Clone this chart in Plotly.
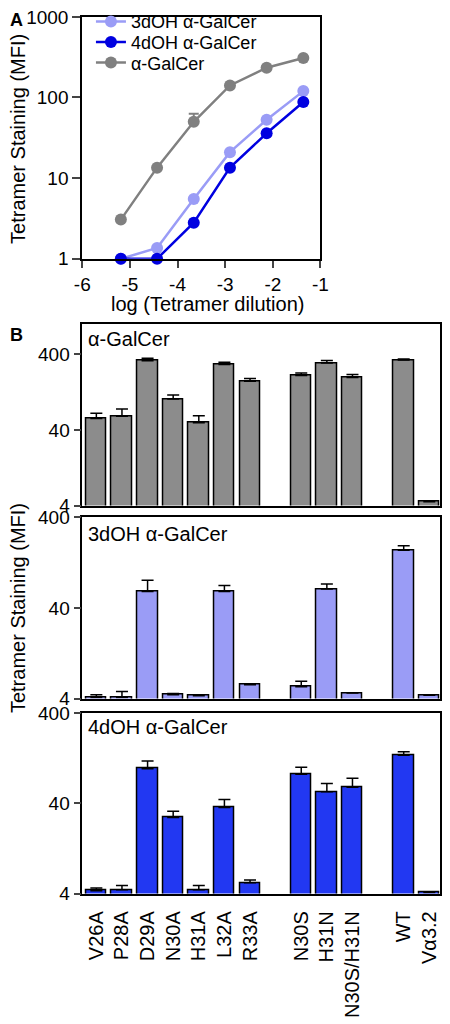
import math
import plotly.graph_objects as go

# ---------------- Panel A data ----------------
log_dilution = [-5.19, -4.43, -3.66, -2.90, -2.13, -1.36]
mfi_3doh = [1.0, 1.36, 5.5, 21, 53, 120]
mfi_4doh = [1.0, 1.0, 2.8, 13.5, 36, 88]
mfi_agal = [3.06, 13.5, 50, 141, 234, 309]
err_agal = [0, 0, 13, 0, 0, 0]
a_yticks = [1, 10, 100, 1000]
a_xticks = [-6, -5, -4, -3, -2, -1]

# ---------------- Panel B data ----------------
group_alanine = ["V26A", "P28A", "D29A", "N30A", "H31A", "L32A", "R33A"]
group_mouse = ["N30S", "H31N", "N30S/H31N"]
group_ctrl = ["WT", "Vα3.2"]

bar_agal = [57, 61, 331, 103, 50, 294, 177, 211, 308, 199, 337, 4.5]
bar_agal_err = [10, 15, 27, 13, 12, 21, 16, 16, 26, 19, 11, 0.15]
bar_3doh = [4.1, 4.1, 61, 4.4, 4.3, 61, 5.7, 5.4, 65, 4.6, 173, 4.35]
bar_3doh_err = [0.3, 0.7, 20, 0.15, 0.12, 10, 0.05, 0.8, 8.6, 0.05, 21, 0.05]
bar_4doh = [4.3, 4.4, 97, 27.9, 4.4, 36.1, 5.25, 84, 53.8, 60.4, 137, 4.1]
bar_4doh_err = [0.3, 0.5, 21, 4.8, 0.5, 8.2, 0.4, 17, 12.6, 15.5, 13, 0.05]
b_yticks = [4, 40, 400]

C_LIGHT = "#9a9cf6"
C_DARK = "#0000e0"
C_GRAY = "#808080"
C_BAR_GRAY = "#8c8c8c"
C_BAR_DARK = "#2238f2"
FONT = "Liberation Sans, Arial, Helvetica, sans-serif"

W, H = 450, 1024


def px_x(v):
    return v / W


def px_y(v):
    return 1 - v / H


# category positions: groups separated by one empty slot
categories = []
positions = []
pos = 0
for grp in (group_alanine, group_mouse, group_ctrl):
    for c in grp:
        categories.append(c)
        positions.append(pos)
        pos += 1
    pos += 1

fig = go.Figure()

# Panel A lines, each in its own legend row
legend_rows = [("legend", 12), ("legend2", 33), ("legend3", 54)]
for (name, ys, col, err), (lg, _) in zip((
    ("3dOH α-GalCer", mfi_3doh, C_LIGHT, None),
    ("4dOH α-GalCer", mfi_4doh, C_DARK, None),
    ("α-GalCer", mfi_agal, C_GRAY, err_agal),
), legend_rows):
    fig.add_trace(go.Scatter(
        x=log_dilution, y=ys, name=name, mode="lines+markers",
        line=dict(color=col, width=2.5),
        marker=dict(color=col, size=12),
        error_y=(dict(type="data", array=err, symmetric=False,
                      arrayminus=[0] * len(err), color=col, thickness=2, width=5)
                 if err else None),
        cliponaxis=False, legend=lg,
        xaxis="x", yaxis="y",
    ))

# Panel B bars
for i, (vals, errs, col) in enumerate((
    (bar_agal, bar_agal_err, C_BAR_GRAY),
    (bar_3doh, bar_3doh_err, C_LIGHT),
    (bar_4doh, bar_4doh_err, C_BAR_DARK),
)):
    n = i + 2
    fig.add_trace(go.Bar(
        x=positions, y=vals, width=0.8,
        marker=dict(color=col, line=dict(color="black", width=1.5)),
        error_y=dict(type="data", array=errs, symmetric=False,
                     arrayminus=[0] * len(errs), color="black",
                     thickness=1.5, width=6),
        showlegend=False,
        xaxis=f"x{n}", yaxis=f"y{n}",
    ))

tickfont = dict(family=FONT, size=19, color="black")

layout = dict(
    width=W, height=H,
    margin=dict(l=0, r=0, t=0, b=0),
    paper_bgcolor="white", plot_bgcolor="white",
    font=dict(family=FONT, color="black"),
    bargap=0,
    xaxis=dict(domain=[px_x(77), px_x(324)], anchor="y", range=[-6, -1],
               tickvals=a_xticks, ticktext=[str(v) for v in a_xticks],
               ticks="outside", ticklen=7,
               tickwidth=2, showline=True, linewidth=2, linecolor="black",
               mirror=True, showgrid=False, zeroline=False, tickfont=tickfont),
    yaxis=dict(domain=[px_y(254), px_y(7)], anchor="x", type="log",
               range=[0, 3], tickvals=a_yticks,
               ticktext=[str(v) for v in a_yticks], ticks="outside",
               ticklen=8, tickwidth=2, showline=True, linewidth=2,
               linecolor="black", mirror=True, showgrid=False,
               zeroline=False, tickfont=tickfont),
)
for lg, yc in legend_rows:
    layout[lg] = dict(x=px_x(86), y=px_y(yc), xanchor="left", yanchor="middle",
                      font=dict(family=FONT, size=18, color="black"),
                      bgcolor="rgba(0,0,0,0)", itemwidth=30)

b_domains = [(321, 506, 1000), (518, 703, 400), (718, 902, 400)]
for i, (top, bot, ymax) in enumerate(b_domains):
    n = i + 2
    layout[f"xaxis{n}"] = dict(
        domain=[px_x(77), px_x(448)], anchor=f"y{n}", range=[-0.55, 13.42],
        tickvals=positions, ticktext=categories,
        showticklabels=(n == 4), tickangle=-90, ticks="",
        ticklabelstandoff=8,
        showline=True, linewidth=1.5, linecolor="black", mirror=True,
        showgrid=False, zeroline=False,
        tickfont=dict(family=FONT, size=20, color="black"))
    layout[f"yaxis{n}"] = dict(
        domain=[px_y(bot), px_y(top)], anchor=f"x{n}", type="log",
        range=[math.log10(4), math.log10(ymax)], tickvals=b_yticks,
        ticktext=[str(v) for v in b_yticks], ticks="outside", ticklen=7,
        tickwidth=1.5, showline=True, linewidth=1.5, linecolor="black",
        mirror=True, showgrid=False, zeroline=False, tickfont=tickfont)

fig.update_layout(**layout)

ann_font = dict(family=FONT, size=20, color="black")
annotations = [
    dict(text="<b>A</b>", x=px_x(0), y=px_y(-2), xanchor="left", yanchor="top",
         font=dict(family=FONT, size=18, color="black")),
    dict(text="<b>B</b>", x=px_x(0), y=px_y(320), xanchor="left", yanchor="top",
         font=dict(family=FONT, size=18, color="black")),
    dict(text="Tetramer Staining (MFI)", x=px_x(11), y=px_y(132),
         textangle=-90, xanchor="center", yanchor="middle", font=ann_font),
    dict(text="Tetramer Staining (MFI)", x=px_x(11), y=px_y(611),
         textangle=-90, xanchor="center", yanchor="middle", font=ann_font),
    dict(text="log (Tetramer dilution)", x=px_x(207), y=px_y(300),
         xanchor="center", yanchor="middle", font=ann_font),
    dict(text="α-GalCer", x=px_x(81), y=px_y(336), xanchor="left",
         yanchor="middle", font=ann_font),
    dict(text="3dOH α-GalCer", x=px_x(81), y=px_y(535), xanchor="left",
         yanchor="middle", font=ann_font),
    dict(text="4dOH α-GalCer", x=px_x(81), y=px_y(732), xanchor="left",
         yanchor="middle", font=ann_font),
]
for a in annotations:
    a.update(xref="paper", yref="paper", showarrow=False)
fig.update_layout(annotations=annotations)

fig.write_html("out.html",
               config={"displayModeBar": False},
               post_script="document.body.style.margin='0';"
                           "document.body.style.overflow='hidden';")
